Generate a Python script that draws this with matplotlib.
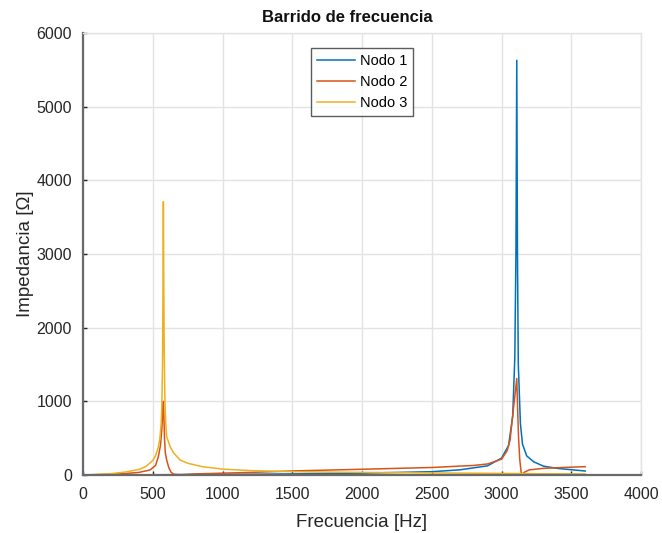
import matplotlib
matplotlib.use("Agg")
import matplotlib.pyplot as plt

# frequency sweep data (Hz, Ohm)
f_nodo1 = [0, 500, 1000, 1500, 2000, 2500, 2700, 2900, 3000, 3050, 3080, 3095,
           3103, 3109, 3114, 3120, 3135, 3150, 3180, 3230, 3300, 3400, 3600]
z_nodo1 = [0, 3, 8, 15, 25, 45, 70, 125, 230, 400, 800, 1600,
           3000, 5630, 3000, 1500, 700, 420, 260, 180, 120, 90, 54]

f_nodo2 = [0, 200, 300, 400, 480, 520, 540, 555, 565, 572, 576, 580, 584,
           590, 600, 615, 630, 650, 700, 800, 1000, 1200, 1500, 2000, 2500,
           2800, 2900, 3000, 3040, 3061, 3085, 3100, 3109, 3115, 3122, 3130,
           3140, 3150, 3165, 3200, 3300, 3450, 3600]
z_nodo2 = [0, 10, 20, 35, 68, 130, 250, 400, 620, 880, 1000, 780, 500,
           300, 200, 100, 40, 10, 5, 15, 25, 35, 55, 78, 102,
           130, 150, 215, 330, 475, 900, 1150, 1310, 900, 500, 220,
           40, 8, 40, 70, 90, 103, 113]

f_nodo3 = [0, 100, 200, 300, 400, 450, 480, 500, 520, 540, 550, 560, 565,
           570, 573, 576, 579, 582, 587, 593, 600, 624, 650, 695, 750, 850,
           933, 1000, 1200, 1500, 2000, 2500, 3000, 3200, 3600]
z_nodo3 = [0, 8, 18, 40, 75, 115, 163, 200, 260, 380, 480, 700, 950,
           1500, 2500, 3710, 2600, 1700, 1000, 700, 520, 385, 300, 204, 160, 115,
           95, 80, 60, 45, 35, 28, 22, 18, 14]

labels = ["Nodo 1", "Nodo 2", "Nodo 3"]
colors = ["#0072BD", "#D95319", "#EDB120"]

plt.rcParams['font.family'] = ['Liberation Sans', 'DejaVu Sans']

fig = plt.figure(figsize=(6.62, 5.33), dpi=100)
ax = fig.add_axes([0.1254, 0.1088, 0.843, 0.8293])

ax.plot(f_nodo1, z_nodo1, color=colors[0], lw=1.1, label=labels[0])
ax.plot(f_nodo2, z_nodo2, color=colors[1], lw=1.1, label=labels[1])
ax.plot(f_nodo3, z_nodo3, color=colors[2], lw=1.1, label=labels[2])

ax.set_xlim(0, 4000)
ax.set_ylim(0, 6000)
ax.set_xticks(range(0, 4001, 500))
ax.set_yticks(range(0, 6001, 1000))
ax.grid(True, color="#e3e3e3", lw=1.0)
ax.set_axisbelow(True)

text_col = "#262626"
axis_col = "#6a6a6a"
for side in ["left", "bottom"]:
    ax.spines[side].set_color(axis_col)
    ax.spines[side].set_linewidth(1.6)
for side in ["top", "right"]:
    ax.spines[side].set_color("#e3e3e3")
    ax.spines[side].set_linewidth(1.0)
ax.tick_params(direction="in", length=3, width=1.0, color=text_col,
               labelcolor=text_col, labelsize=11.5)
ax.tick_params(axis="x", pad=8.5)
ax.tick_params(axis="y", pad=8)

ax.set_title("Barrido de frecuencia", fontsize=12, fontweight="bold",
             x=0.473, pad=8, color="#111111")
ax.set_xlabel("Frecuencia [Hz]", fontsize=13.5, color=text_col, labelpad=9)
ax.set_ylabel("Impedancia [Ω]", fontsize=13.5, color=text_col, labelpad=2)

leg = ax.legend(loc="upper left", bbox_to_anchor=(0.4086, 0.966), fontsize=10.5,
                frameon=True, fancybox=False, handlelength=2.6,
                borderpad=0.4, borderaxespad=0, labelspacing=0.5,
                handletextpad=0.35)
leg.get_frame().set_edgecolor("#333333")
leg.get_frame().set_linewidth(1.0)

fig.savefig("out.png", dpi=100)
